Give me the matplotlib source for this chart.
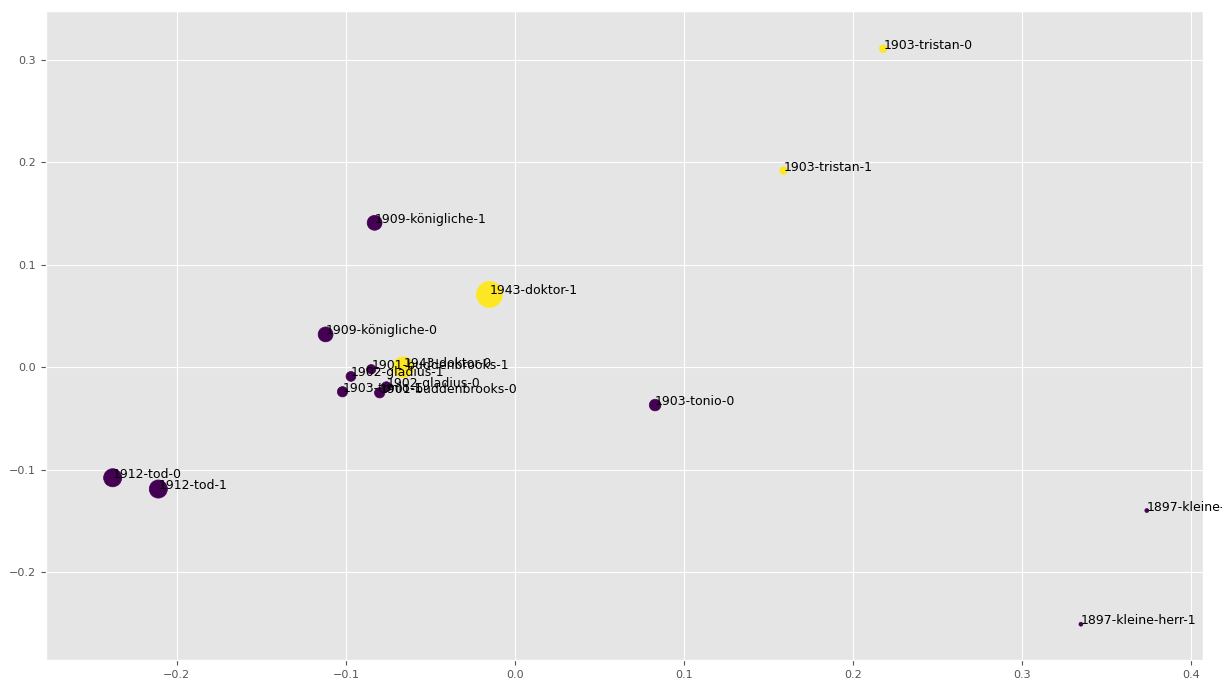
import numpy as np
import matplotlib
matplotlib.use('Agg')
import matplotlib.pyplot as plt

plt.style.use('ggplot')

# document labels and their 2D coordinates
labels = ['1903-tristan-0', '1903-tristan-1', '1909-königliche-1', '1943-doktor-1',
          '1909-königliche-0', '1901-buddenbrooks-1', '1943-doktor-0', '1902-gladius-1',
          '1902-gladius-0', '1903-tonio-1', '1901-buddenbrooks-0', '1903-tonio-0',
          '1912-tod-0', '1912-tod-1', '1897-kleine-herr-0', '1897-kleine-herr-1']
xs = [0.218, 0.159, -0.083, -0.015, -0.112, -0.085, -0.066, -0.097,
      -0.076, -0.102, -0.080, 0.083, -0.238, -0.211, 0.374, 0.335]
ys = [0.311, 0.192, 0.141, 0.071, 0.032, -0.002, 0.000, -0.009,
      -0.019, -0.024, -0.025, -0.037, -0.108, -0.119, -0.140, -0.251]
colors = [1, 1, 0, 1, 0, 0, 1, 0, 0, 0, 0, 0, 0, 0, 0, 0]
sizes = [30, 30, 115, 350, 115, 45, 220, 50, 50, 55, 55, 70, 170, 170, 8, 8]

fig = plt.figure(figsize=(12.22, 6.78), dpi=100)
ax = fig.add_axes([0.0376, 0.0265, 0.9465, 0.9575])
ax.scatter(xs, ys, c=colors, s=sizes, cmap='viridis')
for lab, x, y in zip(labels, xs, ys):
    ax.annotate(lab, (x, y), fontsize=9, color='black')

ax.set_xlim(-0.2775, 0.407)
ax.set_ylim(-0.286, 0.348)
ax.tick_params(labelsize=8)

fig.savefig('out.png', dpi=100)
